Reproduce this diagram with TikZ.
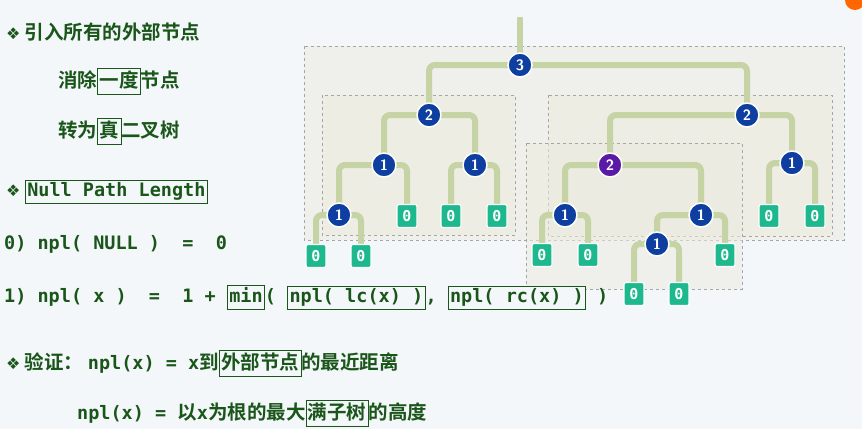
\documentclass[tikz,border=0pt]{standalone}
\usepackage{fontspec}
\setmainfont{Noto Sans CJK SC}[BoldFont={Noto Sans CJK SC Bold}]
\setmonofont{DejaVu Sans Mono}
\newfontfamily\symf{DejaVu Sans}
\newfontfamily\cjkb{Noto Sans CJK SC Bold}
\definecolor{bgc}{HTML}{F4F7FA}
\definecolor{dkg}{HTML}{1A561A}
\definecolor{edg}{HTML}{C5D3A5}
\definecolor{blu}{HTML}{0E3FA0}
\definecolor{pur}{HTML}{5A1AA6}
\definecolor{tea}{HTML}{1DB88E}
\definecolor{boxf}{HTML}{ECEBE0}
\setlength\fboxsep{1.5pt}
\setlength\fboxrule{0.8pt}
\newcommand\bx[1]{\fcolorbox{dkg}{bgc}{\strut #1}}
\newcommand\dm{{\symf\fontsize{16}{16}\selectfont ❖}}
\begin{document}
\begin{tikzpicture}[x=1pt,y=-1pt,
  inn/.style={circle,fill=blu,draw=white,line width=1.5pt,minimum size=24pt,inner sep=0pt,text=white,font=\fontsize{15}{15}\selectfont\sffamily\bfseries},
  pinn/.style={inn,fill=pur},
  ext/.style={rectangle,rounded corners=2pt,fill=tea,draw=white,line width=1.2pt,minimum width=20pt,minimum height=23pt,inner sep=0pt,text=white,font=\ttfamily\bfseries\fontsize{15}{15}\selectfont},
  edge/.style={draw=edg,line width=6pt,rounded corners=6pt},
  grp/.style={draw=gray!70,dashed,fill=boxf,fill opacity=0.55,line width=0.6pt},
  txt/.style={anchor=base west,inner sep=0pt,text=dkg,font=\cjkb\fontsize{19.5}{19.5}\selectfont},
  mono/.style={anchor=base west,inner sep=0pt,text=dkg,font=\ttfamily\bfseries\fontsize{18.5}{18.5}\selectfont}]
\useasboundingbox (0,0) rectangle (862,429);
\fill[bgc] (0,0) rectangle (862,429);
\fill[orange!80!red] (855,0) circle (10);
% groups
\path[grp] (304,46) rectangle (844,240);
\path[grp] (322,95) rectangle (515,235);
\path[grp] (548,95) rectangle (832,236);
\path[grp] (526,143) rectangle (742,289);
% coordinates
\coordinate (top) at (520,17);
\path (520,65) coordinate (r);
\path (429,115) coordinate (a) (747,115) coordinate (b)
 (384,165) coordinate (a1) (475,165) coordinate (a2)
 (339,215) coordinate (a11) (407,216) coordinate (a12)
 (451,216) coordinate (a21) (497,216) coordinate (a22)
 (316,256) coordinate (a111) (361,256) coordinate (a112)
 (610,165) coordinate (b1) (792,163) coordinate (b2)
 (565,215) coordinate (b11) (701,215) coordinate (b12)
 (542,255) coordinate (b111) (588,255) coordinate (b112)
 (657,244) coordinate (b121) (725,255) coordinate (b122)
 (634,294) coordinate (b1211) (679,294) coordinate (b1212)
 (769,216) coordinate (b21) (815,216) coordinate (b22);
% edges
\draw[edge] (top) -- (r);
\foreach \p/\c in {r/a,r/b,a/a1,a/a2,a1/a11,a1/a12,a2/a21,a2/a22,a11/a111,a11/a112,
  b/b1,b/b2,b1/b11,b1/b12,b11/b111,b11/b112,b12/b121,b12/b122,b121/b1211,b121/b1212,b2/b21,b2/b22}
  \draw[edge] (\p) -| (\c);
% nodes
\node[inn] (nr) at (r) {3};
\node[inn] (na) at (a) {2};
\node[inn] (nb) at (b) {2};
\node[inn] (na1) at (a1) {1};
\node[inn] (na2) at (a2) {1};
\node[inn] (na11) at (a11) {1};
\node[pinn] (nb1) at (b1) {2};
\node[inn] (nb2) at (b2) {1};
\node[inn] (nb11) at (b11) {1};
\node[inn] (nb12) at (b12) {1};
\node[inn] (nb121) at (b121) {1};
\foreach \e in {a12,a21,a22,a111,a112,b111,b112,b122,b1211,b1212,b21,b22}
  \node[ext] (n\e) at (\e) {0};
% text
\node[txt] (t1) at (6,39) {\dm\ 引入所有的外部节点};
\node[txt] (t2) at (58,87) {消除\bx{一度}节点};
\node[txt] (t3) at (58,137) {转为\bx{真}二叉树};
\node[txt] (t4) at (6,196) {\dm\ \bx{\ttfamily\bfseries\fontsize{18.5}{18.5}\selectfont Null Path Length}};
\node[mono] (t5) at (4,249) {0) npl( NULL )\ \ =\ \ 0};
\node[mono] (t6) at (4,302) {1) npl( x )\ \ =\ \ 1 + \bx{min}( \bx{npl( lc(x) )}, \bx{npl( rc(x) )} )};
\node[txt] (t7) at (6,369) {\dm\ 验证： {\ttfamily\bfseries\fontsize{18.5}{18.5}\selectfont npl(x) = x}到\bx{外部节点}的最近距离};
\node[txt] (t8) at (77,419) {{\ttfamily\bfseries\fontsize{18.5}{18.5}\selectfont npl(x) = }以{\ttfamily\bfseries\fontsize{18.5}{18.5}\selectfont x}为根的最大\bx{满子树}的高度};
\end{tikzpicture}
\end{document}
